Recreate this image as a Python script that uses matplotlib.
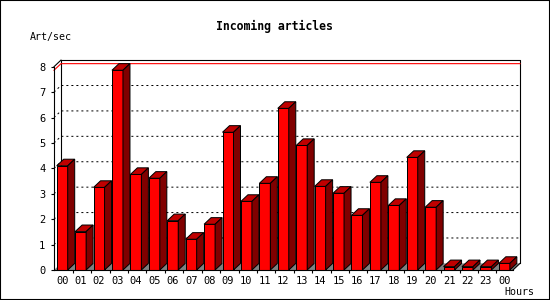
import matplotlib.pyplot as plt
from matplotlib.patches import Polygon, Rectangle

# hourly incoming articles (Art/sec)
hours = ["00", "01", "02", "03", "04", "05", "06", "07", "08", "09", "10", "11",
         "12", "13", "14", "15", "16", "17", "18", "19", "20", "21", "22", "23", "00"]
rates = [4.10, 1.51, 3.25, 7.86, 3.76, 3.61, 1.94, 1.21, 1.80, 5.42, 2.70, 3.41,
         6.36, 4.90, 3.29, 3.02, 2.15, 3.45, 2.54, 4.43, 2.47, 0.13, 0.13, 0.13, 0.26]
y_ticks = [0, 1, 2, 3, 4, 5, 6, 7, 8]

FRONT = "#ff0000"
TOP = "#c00000"
SIDE = "#800000"
FLOOR = "#808080"
MONO = "DejaVu Sans Mono"

# 3d depth in data units
DX = 0.38
DY = 0.26
BAR_W = 0.597
X0, X1 = -0.445, 24.47
YMAX = 8

fig = plt.figure(figsize=(5.5, 3), dpi=100)
fig.patches.append(Rectangle((0, 0), 1, 1, transform=fig.transFigure,
                             fill=False, edgecolor="black", linewidth=1.5))

ax = fig.add_axes([54 / 550, 30 / 300, 459 / 550, 203.3 / 300])
ax.set_xlim(X0, X1)
ax.set_ylim(0, YMAX)
ax.patch.set_visible(False)
for s in ("top", "right"):
    ax.spines[s].set_visible(False)
for s in ("left", "bottom"):
    ax.spines[s].set_linewidth(0.8)
    ax.spines[s].set_zorder(5)

# floor
ax.add_patch(Polygon([(X0, 0), (X1, 0), (X1 + DX, DY), (X0 + DX, DY)],
                     closed=True, facecolor=FLOOR, edgecolor="none",
                     clip_on=False, zorder=1))

# back wall frame
ax.plot([X0 + DX, X0 + DX, X1 + DX, X1 + DX], [DY, YMAX + DY, YMAX + DY, DY],
        color="black", lw=0.8, clip_on=False, zorder=2)
ax.plot([X0, X0 + DX], [YMAX, YMAX + DY], color="black", lw=0.8, clip_on=False, zorder=2)
ax.plot([X1, X1 + DX], [0, DY], color="black", lw=0.8, clip_on=False, zorder=2)

# dotted grid lines on the back wall
for v in y_ticks[1:-1]:
    ax.plot([X0, X0 + DX, X1 + DX], [v, v + DY, v + DY], color="black", lw=0.72,
            linestyle=(0, (2, 3)), clip_on=False, zorder=2)

# max value line
vmax = max(rates)
ax.plot([X0, X0 + DX, X1 + DX], [vmax, vmax + DY, vmax + DY], color="red", lw=0.8,
        clip_on=False, zorder=2)

# bars
for i, v in enumerate(rates):
    l = i - BAR_W / 2
    r = i + BAR_W / 2
    ax.add_patch(Rectangle((l, 0), BAR_W, v, facecolor=FRONT, edgecolor="black",
                           lw=0.72, clip_on=False, zorder=3))
    ax.add_patch(Polygon([(l, v), (l + DX, v + DY), (r + DX, v + DY), (r, v)],
                         closed=True, facecolor=TOP, edgecolor="black", lw=0.72,
                         clip_on=False, zorder=3))
    ax.add_patch(Polygon([(r, 0), (r + DX, DY), (r + DX, v + DY), (r, v)],
                         closed=True, facecolor=SIDE, edgecolor="black", lw=0.72,
                         clip_on=False, zorder=3))

ax.set_yticks(y_ticks)
ax.set_yticklabels([str(t) for t in y_ticks], fontfamily=MONO, fontsize=7.5)
ax.tick_params(axis="y", direction="out", length=2.2, width=0.8, pad=4)

ax.set_xticks(range(len(hours)))
ax.set_xticklabels(hours, fontfamily=MONO, fontsize=7.5)
ax.tick_params(axis="x", which="major", length=0, pad=4.5)
ax.set_xticks([i + 0.57 for i in range(len(hours) - 1)], minor=True)
ax.tick_params(axis="x", which="minor", direction="out", length=2.4, width=0.8)

fig.text(274 / 550, 1 - 26.7 / 300, "Incoming articles", ha="center", va="center",
         fontfamily=MONO, fontweight="bold", fontsize=8.3)
fig.text(30 / 550, 1 - 36.7 / 300, "Art/sec", ha="left", va="center",
         fontfamily=MONO, fontsize=7.2)
fig.text(504 / 550, 1 - 291.7 / 300, "Hours", ha="left", va="center",
         fontfamily=MONO, fontsize=7.2)

fig.savefig("out.png", dpi=100)
